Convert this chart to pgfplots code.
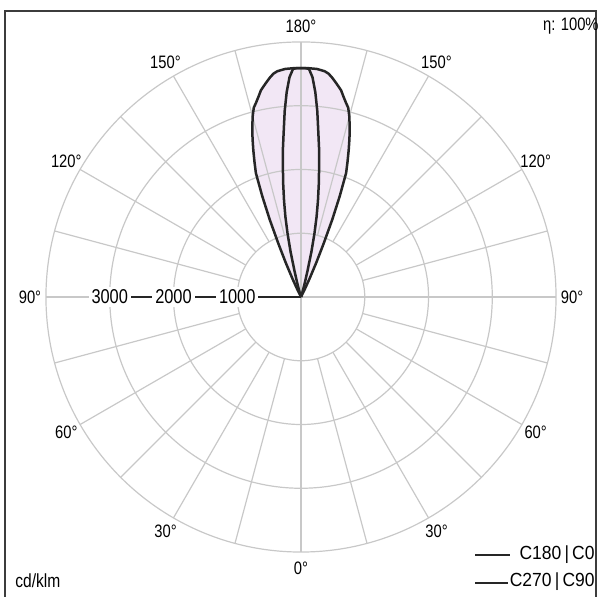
\documentclass[border=0pt]{standalone}
\usepackage{fontspec}
\setmainfont{Liberation Sans}[FakeStretch=0.82]
\newfontfamily\legendfont{Liberation Sans}[FakeStretch=0.92]
\usepackage{pgfplots}
\pgfplotsset{compat=1.18}
\usepgfplotslibrary{polar}

\definecolor{gridgray}{RGB}{200,200,200}
\definecolor{curvecol}{RGB}{38,38,38}
\definecolor{lobe}{RGB}{242,231,245}
\definecolor{framegray}{RGB}{60,60,60}

\begin{document}
\begin{tikzpicture}
\begin{axis}[
  anchor=origin, at={(0,0)},
  x=0.031875pt, y=0.031875pt,
  xmin=-4500, xmax=4500, ymin=-4500, ymax=4500,
  hide axis, clip=false,
  gridline/.style={draw=gridgray, line width=0.6pt, data cs=polar},
  lobeline/.style={draw=curvecol, line width=1.25pt, line join=round, data cs=polar},
]
% shaded area of the wide lobe (C270|C90)
\addplot[fill=lobe, draw=none, data cs=polar] coordinates {
(63,0) (64,140) (65,320) (66,590) (67,900) (68,1310) (69,1700) (70,2070)
(71,2240) (72,2420) (73,2600) (74,2770) (75,2930) (76,3060) (77,3130)
(78,3210) (79,3300) (80,3360) (81,3420) (82,3480) (83,3530) (84,3560)
(86,3585) (88,3590) (90,3590) (92,3590) (94,3585) (96,3560) (97,3530)
(98,3480) (99,3420) (100,3360) (101,3300) (102,3210) (103,3130) (104,3060)
(105,2930) (106,2770) (107,2600) (108,2420) (109,2240) (110,2070) (111,1700)
(112,1310) (113,900) (114,590) (115,320) (116,140) (117,0)
};

% grid
\draw[gridgray, line width=0.6pt] (0,0) circle[radius=1000];
\draw[gridgray, line width=0.6pt] (0,0) circle[radius=2000];
\draw[gridgray, line width=0.6pt] (0,0) circle[radius=3000];
\draw[gridgray, line width=0.6pt] (0,0) circle[radius=4000];
\pgfplotsinvokeforeach{0,15,...,345}{
  \addplot[gridline] coordinates {(#1,1000) (#1,4000)};
}
\addplot[gridline] coordinates {(0,0) (0,4000)};
\addplot[gridline] coordinates {(90,0) (90,4000)};
\addplot[gridline] coordinates {(270,0) (270,4000)};
\addplot[gridline] coordinates {(180,3000) (180,4000)};
\addplot[draw=curvecol, line width=0.9pt, data cs=polar] coordinates {(180,0) (180,3000)};

% C270|C90
\addplot[lobeline] coordinates {
(63,0) (64,140) (65,320) (66,590) (67,900) (68,1310) (69,1700) (70,2070)
(71,2240) (72,2420) (73,2600) (74,2770) (75,2930) (76,3060) (77,3130)
(78,3210) (79,3300) (80,3360) (81,3420) (82,3480) (83,3530) (84,3560)
(86,3585) (88,3590) (90,3590) (92,3590) (94,3585) (96,3560) (97,3530)
(98,3480) (99,3420) (100,3360) (101,3300) (102,3210) (103,3130) (104,3060)
(105,2930) (106,2770) (107,2600) (108,2420) (109,2240) (110,2070) (111,1700)
(112,1310) (113,900) (114,590) (115,320) (116,140) (117,0)
};
% C180|C0
\addplot[lobeline] coordinates {
(73,0) (74,100) (75,240) (76,420) (77,720) (78,1010) (79,1280) (80,1530)
(81,1780) (82,2040) (83,2330) (84,2600) (85,2930) (86,3220) (87,3450)
(88,3580) (89,3590) (90,3590) (91,3590) (92,3580) (93,3450) (94,3220)
(95,2930) (96,2600) (97,2330) (98,2040) (99,1780) (100,1530) (101,1280)
(102,1010) (103,720) (104,420) (105,240) (106,100) (107,0)
};
\end{axis}

\begin{scope}[x=0.5pt, y=0.5pt]
  \draw[framegray, line width=1pt] (-296,-330) -- (-296,286) -- (295,286) -- (295,-330);
  \begin{scope}[font=\fontsize{9}{10}\selectfont]
  \foreach \a/\t in {90/180°, 60/150°, 30/120°, 0/90°, -30/60°, -60/30°, -90/0°,
                     120/150°, 150/120°, 180/90°, 210/60°, 240/30°}
    \node[inner sep=0pt] at (\a:271) {\t};
  \end{scope}
  \begin{scope}[font=\fontsize{10}{11}\selectfont]
  \node[fill=white, inner sep=1.5pt] at (-63.75,0) {1000};
  \node[fill=white, inner sep=1.5pt] at (-127.5,0) {2000};
  \node[fill=white, inner sep=1.5pt] at (-191.25,0) {3000};
  \end{scope}
  \node[anchor=east, inner sep=0pt, font=\fontsize{9}{10}\selectfont] at (298,271) {η: 100\%};
  \node[anchor=west, inner sep=0pt, font=\fontsize{9.5}{10}\selectfont] at (-286,-284) {cd/klm};
  \draw[curvecol, line width=0.6pt] (174,-258) -- (209,-258);
  \draw[curvecol, line width=1.4pt] (174,-286) -- (207,-286);
  \node[anchor=east, inner sep=0pt, font=\legendfont\fontsize{9.5}{10}\selectfont] at (294,-258) {C180\,|\,C0};
  \node[anchor=east, inner sep=0pt, font=\legendfont\fontsize{9.5}{10}\selectfont] at (294,-285) {C270\,|\,C90};
  \pgfresetboundingbox
  \path[use as bounding box] (-301,-300) rectangle (299,297);
\end{scope}
\end{tikzpicture}
\end{document}
